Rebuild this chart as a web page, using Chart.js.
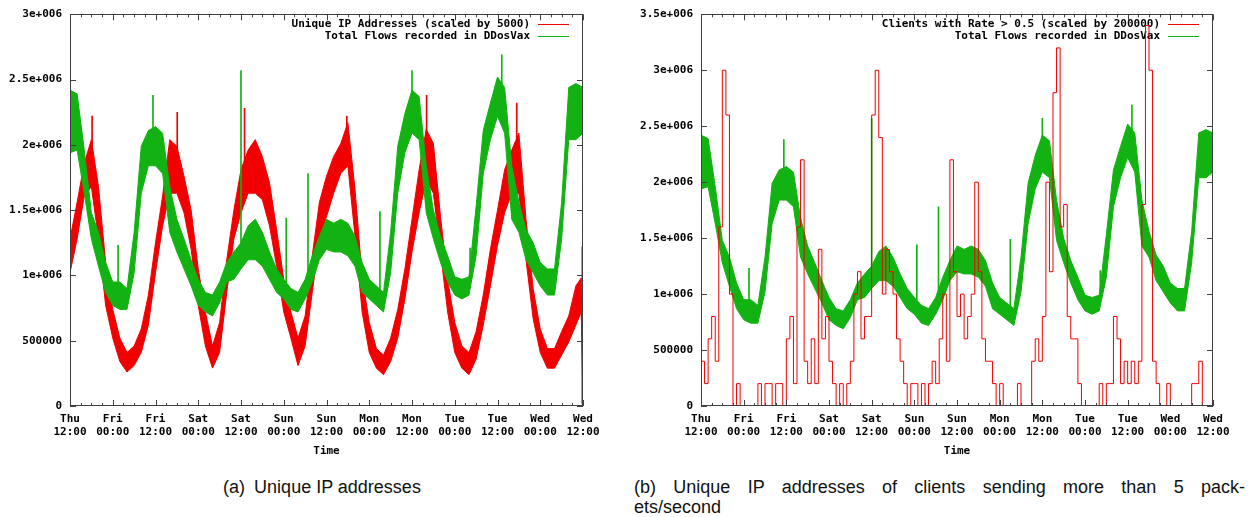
<!DOCTYPE html>
<html>
<head>
<meta charset="utf-8">
<script src="https://cdn.jsdelivr.net/npm/chart.js@4.4.1/dist/chart.umd.min.js"></script>
<style>
  body { margin: 0; background: #fff; }
  #page { position: relative; width: 1256px; height: 517px; overflow: hidden;
          font-family: "Liberation Sans", Arial, sans-serif; color: #111; }
  canvas { position: absolute; top: 0; }
  #chartA { left: 0; }
  #chartB { left: 628px; }
  .cap { position: absolute; font-size: 18px; line-height: 20px; white-space: nowrap; }
  #capA { left: 0; width: 644px; top: 477px; text-align: center; }
  #capB1 { left: 634px; width: 611px; top: 477px; text-align: justify; text-align-last: justify; white-space: normal; }
  #capB2 { left: 634px; top: 497px; }
</style>
</head>
<body>
<div id="page">
  <canvas id="chartA" width="628" height="465"></canvas>
  <canvas id="chartB" width="628" height="465"></canvas>
  <div class="cap" id="capA">(a)&ensp;Unique IP addresses</div>
  <div class="cap" id="capB1">(b) Unique IP addresses of clients sending more than 5 pack-</div>
  <div class="cap" id="capB2">ets/second</div>
</div>
<script>
// values; flow/IP values are in millions
var MILLION = 1000000;
var CLIENT_SCALE = 200000;

var xDayLabels  = ['Thu', 'Fri', 'Fri', 'Sat', 'Sat', 'Sun', 'Sun', 'Mon', 'Mon', 'Tue', 'Tue', 'Wed', 'Wed'];
var xTimeLabels = ['12:00', '00:00', '12:00', '00:00', '12:00', '00:00', '12:00', '00:00', '12:00', '00:00', '12:00', '00:00', '12:00'];
var yLabelsA = ['0', '500000', '1e+006', '1.5e+006', '2e+006', '2.5e+006', '3e+006'];
var yLabelsB = ['0', '500000', '1e+006', '1.5e+006', '2e+006', '2.5e+006', '3e+006', '3.5e+006'];

// hours since Thu 12:00
var bandHours = [0, 2, 4, 6, 8, 10, 12, 14, 16, 18, 20, 22,
  24, 26, 28, 30, 32, 34, 36, 38, 40, 42, 44, 46,
  48, 50, 52, 54, 56, 58, 60, 62, 64, 66, 68, 70,
  72, 74, 76, 78, 80, 82, 84, 86, 88, 90, 92, 94,
  96, 98, 100, 102, 104, 106, 108, 110, 112, 114, 116, 118,
  120, 122, 124, 126, 128, 130, 132, 134, 136, 138, 140, 142, 144];

// Total Flows recorded in DDosVax: upper and lower edge of the noisy band
var flowsHigh = [2.42, 2.39, 1.96, 1.48, 1.33, 1.10, 0.95, 0.95, 0.90, 1.33, 1.99, 2.11,
  2.14, 2.09, 1.68, 1.43, 1.28, 1.12, 0.97, 0.87, 0.85, 0.95, 1.10, 1.18,
  1.25, 1.38, 1.43, 1.33, 1.18, 1.05, 0.97, 0.90, 0.87, 0.97, 1.15, 1.30,
  1.43, 1.40, 1.43, 1.40, 1.30, 1.10, 0.97, 0.92, 0.87, 1.33, 1.99, 2.24,
  2.42, 2.37, 1.84, 1.50, 1.30, 1.15, 0.99, 0.97, 0.99, 1.53, 2.11, 2.32,
  2.52, 2.44, 1.84, 1.56, 1.35, 1.25, 1.10, 1.05, 1.05, 1.56, 2.44, 2.47, 2.44];
var flowsLow = [1.94, 1.96, 1.63, 1.28, 1.07, 0.87, 0.77, 0.74, 0.74, 1.02, 1.63, 1.84,
  1.84, 1.78, 1.33, 1.18, 1.05, 0.92, 0.77, 0.72, 0.69, 0.79, 0.95, 0.97,
  1.05, 1.12, 1.12, 1.07, 0.97, 0.87, 0.82, 0.74, 0.72, 0.82, 0.95, 1.12,
  1.20, 1.18, 1.18, 1.15, 1.07, 0.87, 0.82, 0.77, 0.72, 1.02, 1.63, 1.94,
  2.09, 2.04, 1.48, 1.28, 1.10, 0.95, 0.85, 0.82, 0.85, 1.15, 1.78, 2.04,
  2.22, 2.09, 1.43, 1.33, 1.12, 1.02, 0.92, 0.85, 0.85, 1.28, 2.04, 2.04, 2.09];
var flowSpikeHours = [13.5, 23.3, 48, 60.7, 66.8, 87, 96, 112.3, 121.2];
var flowSpikeLow   = [0.90, 2.05, 1.20, 0.95, 0.95, 0.85, 2.35, 0.95, 2.45];
var flowSpikeHigh  = [1.23, 2.38, 2.57, 1.44, 1.78, 1.49, 2.57, 1.21, 2.69];

// Unique IP Addresses (scaled by 5000)
var ipHours = [0, 2, 4, 6, 8, 10, 12, 14, 16, 18, 20, 22,
  24, 26, 28, 30, 32, 34, 36, 38, 40, 42, 44, 46,
  48, 50, 52, 54, 56, 58, 60, 62, 64, 66, 68, 70,
  72, 74, 76, 78, 80, 82, 84, 86, 88, 90, 92, 94,
  96, 98, 100, 102, 104, 106, 108, 110, 112, 114, 116, 118,
  120, 122, 124, 126, 128, 130, 132, 134, 136, 138, 140, 142, 143.5, 144];
var ipHigh = [1.28, 1.56, 1.86, 2.04, 1.68, 1.10, 0.74, 0.52, 0.41, 0.46, 0.59, 0.85,
  1.25, 1.61, 2.04, 1.99, 1.76, 1.50, 1.05, 0.72, 0.46, 0.64, 1.12, 1.50,
  1.81, 1.96, 2.04, 1.91, 1.71, 1.35, 0.97, 0.72, 0.52, 0.69, 1.15, 1.56,
  1.76, 1.91, 2.01, 2.17, 1.66, 0.99, 0.64, 0.44, 0.39, 0.52, 0.74, 1.05,
  1.43, 1.81, 2.12, 2.01, 1.45, 0.97, 0.64, 0.46, 0.41, 0.57, 0.85, 1.20,
  1.50, 1.81, 1.96, 2.09, 1.43, 0.90, 0.59, 0.44, 0.44, 0.57, 0.69, 0.92, 0.98, 0.08];
var ipLow = [1.02, 1.28, 1.61, 1.68, 1.28, 0.77, 0.52, 0.34, 0.26, 0.31, 0.41, 0.62,
  1.02, 1.38, 1.63, 1.63, 1.48, 1.20, 0.77, 0.46, 0.29, 0.41, 0.87, 1.28,
  1.48, 1.63, 1.63, 1.58, 1.38, 1.07, 0.72, 0.52, 0.31, 0.46, 0.87, 1.28,
  1.45, 1.63, 1.78, 1.84, 1.30, 0.72, 0.41, 0.29, 0.24, 0.34, 0.52, 0.82,
  1.18, 1.48, 1.73, 1.63, 1.18, 0.72, 0.41, 0.29, 0.24, 0.36, 0.62, 0.92,
  1.23, 1.48, 1.63, 1.63, 1.12, 0.67, 0.41, 0.29, 0.29, 0.39, 0.49, 0.62, 0.72, 0.02];
var ipSpikeHours = [6.2, 30.1, 49, 77.7, 100.1, 125.4, 143.8];
var ipSpikeLow   = [1.90, 1.90, 1.70, 2.00, 2.00, 1.90, 0.02];
var ipSpikeHigh  = [2.22, 2.25, 2.28, 2.22, 2.38, 2.32, 1.22];

// Clients with Rate > 0.5, one count per hour (plotted scaled by 200000)
var clientsPerHour = [1, 2, 1, 3, 4, 2, 8, 15, 13, 5, 0, 1,
  0, 0, 0, 0, 0, 1, 0, 1, 1, 0, 1, 1,
  0, 3, 4, 1, 8, 11, 2, 1, 3, 1, 7, 3,
  4, 2, 1, 0, 1, 0, 1, 2, 5, 6, 3, 4,
  4, 13, 15, 12, 5, 7, 6, 5, 3, 2, 1, 0,
  1, 1, 0, 1, 0, 1, 2, 1, 3, 5, 2, 11,
  6, 4, 5, 3, 4, 5, 10, 6, 3, 2, 2, 1,
  0, 1, 0, 0, 0, 0, 1, 0, 0, 0, 2, 3,
  2, 4, 10, 6, 14, 16, 8, 9, 4, 3, 3, 1,
  0, 0, 0, 0, 0, 1, 0, 1, 1, 4, 3, 1,
  2, 1, 2, 1, 2, 9, 17, 15, 2, 1, 0, 0,
  1, 0, 0, 0, 0, 0, 0, 1, 1, 2, 0, 0,
  0];

var RED = '#f00000';
var GREEN = '#12b212';
var tickFont = { family: 'DejaVu Sans Mono', size: 11, weight: 'bold', lineHeight: 1.15 };

function toPoints(hours, vals) {
  return hours.map(function (h, i) { return { x: h, y: vals[i] * MILLION }; });
}
function toSpikes(hours, lo, hi) {
  return hours.map(function (h, i) { return { x: h, y: [lo[i] * MILLION, hi[i] * MILLION] }; });
}

function bandSets(hours, hi, lo, spikeH, spikeLo, spikeHi, color, order) {
  return [
    { type: 'bar', data: toSpikes(spikeH, spikeLo, spikeHi), backgroundColor: color,
      barThickness: 1, grouped: false, order: order },
    { data: toPoints(hours, hi), borderColor: color, backgroundColor: color, borderWidth: 1,
      pointRadius: 0, tension: 0, fill: '+1', order: order + 1 },
    { data: toPoints(hours, lo), borderColor: color, borderWidth: 1,
      pointRadius: 0, tension: 0, fill: false, order: order + 2 }
  ];
}

// gnuplot style frame: border, inward ticks on all sides, key at top right
function gnuFrame(keyItems) {
  return {
    id: 'gnuFrame',
    beforeDatasetsDraw: function (chart) {
      var ctx = chart.ctx, a = chart.chartArea;
      ctx.save();
      ctx.font = 'bold 11px "DejaVu Sans Mono"';
      ctx.textAlign = 'right';
      ctx.textBaseline = 'middle';
      keyItems.forEach(function (it, i) {
        var yy = a.top + 10 + i * 12;
        ctx.fillStyle = '#000';
        ctx.fillText(it.text, a.right - 53, yy);
        ctx.strokeStyle = it.color;
        ctx.lineWidth = 1;
        ctx.beginPath();
        ctx.moveTo(a.right - 45, Math.round(yy) + 0.5);
        ctx.lineTo(a.right - 14, Math.round(yy) + 0.5);
        ctx.stroke();
      });
      ctx.restore();
    },
    afterDatasetsDraw: function (chart) {
      var ctx = chart.ctx, a = chart.chartArea, xs = chart.scales.x, ys = chart.scales.y;
      ctx.save();
      ctx.strokeStyle = '#404040';
      ctx.lineWidth = 1;
      ctx.strokeRect(Math.round(a.left) + 0.5, Math.round(a.top) + 0.5,
        Math.round(a.right - a.left) - 1, Math.round(a.bottom - a.top) - 1);
      ctx.beginPath();
      for (var h = xs.min; h <= xs.max; h += 3) {
        var px = Math.round(xs.getPixelForValue(h)) + 0.5;
        var len = h % 12 === 0 ? 6 : 3;
        ctx.moveTo(px, a.bottom); ctx.lineTo(px, a.bottom - len);
        ctx.moveTo(px, a.top); ctx.lineTo(px, a.top + len);
      }
      ys.ticks.forEach(function (t) {
        var py = Math.round(ys.getPixelForValue(t.value)) + 0.5;
        ctx.moveTo(a.left, py); ctx.lineTo(a.left + 6, py);
        ctx.moveTo(a.right, py); ctx.lineTo(a.right - 6, py);
      });
      ctx.stroke();
      ctx.restore();
    }
  };
}

function buildChart(id, datasets, yMax, yLabels, axisWidth, padRight, keyItems) {
  return new Chart(document.getElementById(id), {
    type: 'line',
    data: { datasets: datasets },
    options: {
      responsive: false,
      animation: false,
      events: [],
      layout: { padding: { left: 0, right: padRight, top: 12, bottom: 0 } },
      plugins: { legend: { display: false }, tooltip: { enabled: false } },
      scales: {
        x: {
          type: 'linear', min: 0, max: 144, offset: false,
          grid: { display: false, drawTicks: false }, border: { display: false },
          ticks: {
            stepSize: 12, autoSkip: false, maxRotation: 0, padding: 7, color: '#000', font: tickFont,
            callback: function (v) { var i = Math.round(v / 12); return [xDayLabels[i], xTimeLabels[i]]; }
          },
          title: { display: true, text: 'Time', color: '#000', font: tickFont, padding: { top: 0, bottom: 8 } },
          afterFit: function (s) { s.height = 59; }
        },
        y: {
          min: 0, max: yMax,
          grid: { display: false, drawTicks: false }, border: { display: false },
          ticks: {
            stepSize: 500000, padding: 8, color: '#000', font: tickFont,
            callback: function (v) { return yLabels[Math.round(v / 500000)]; }
          },
          afterFit: function (s) { s.width = axisWidth; }
        }
      }
    },
    plugins: [gnuFrame(keyItems)]
  });
}

var setsA = bandSets(bandHours, flowsHigh, flowsLow, flowSpikeHours, flowSpikeLow, flowSpikeHigh, GREEN, 1)
  .concat(bandSets(ipHours, ipHigh, ipLow, ipSpikeHours, ipSpikeLow, ipSpikeHigh, RED, 4));

buildChart('chartA', setsA, 3000000, yLabelsA, 70, 45, [
  { text: 'Unique IP Addresses (scaled by 5000)', color: RED },
  { text: 'Total Flows recorded in DDosVax', color: GREEN }
]);

var setsB = [{
    data: clientsPerHour.map(function (n, h) { return { x: h, y: n * CLIENT_SCALE }; }),
    borderColor: RED, borderWidth: 1, pointRadius: 0, stepped: 'after', fill: false, order: 0
  }].concat(bandSets(bandHours, flowsHigh, flowsLow, flowSpikeHours, flowSpikeLow, flowSpikeHigh, GREEN, 1));

buildChart('chartB', setsB, 3500000, yLabelsB, 73, 43, [
  { text: 'Clients with Rate > 0.5 (scaled by 200000)', color: RED },
  { text: 'Total Flows recorded in DDosVax', color: GREEN }
]);
</script>
</body>
</html>
